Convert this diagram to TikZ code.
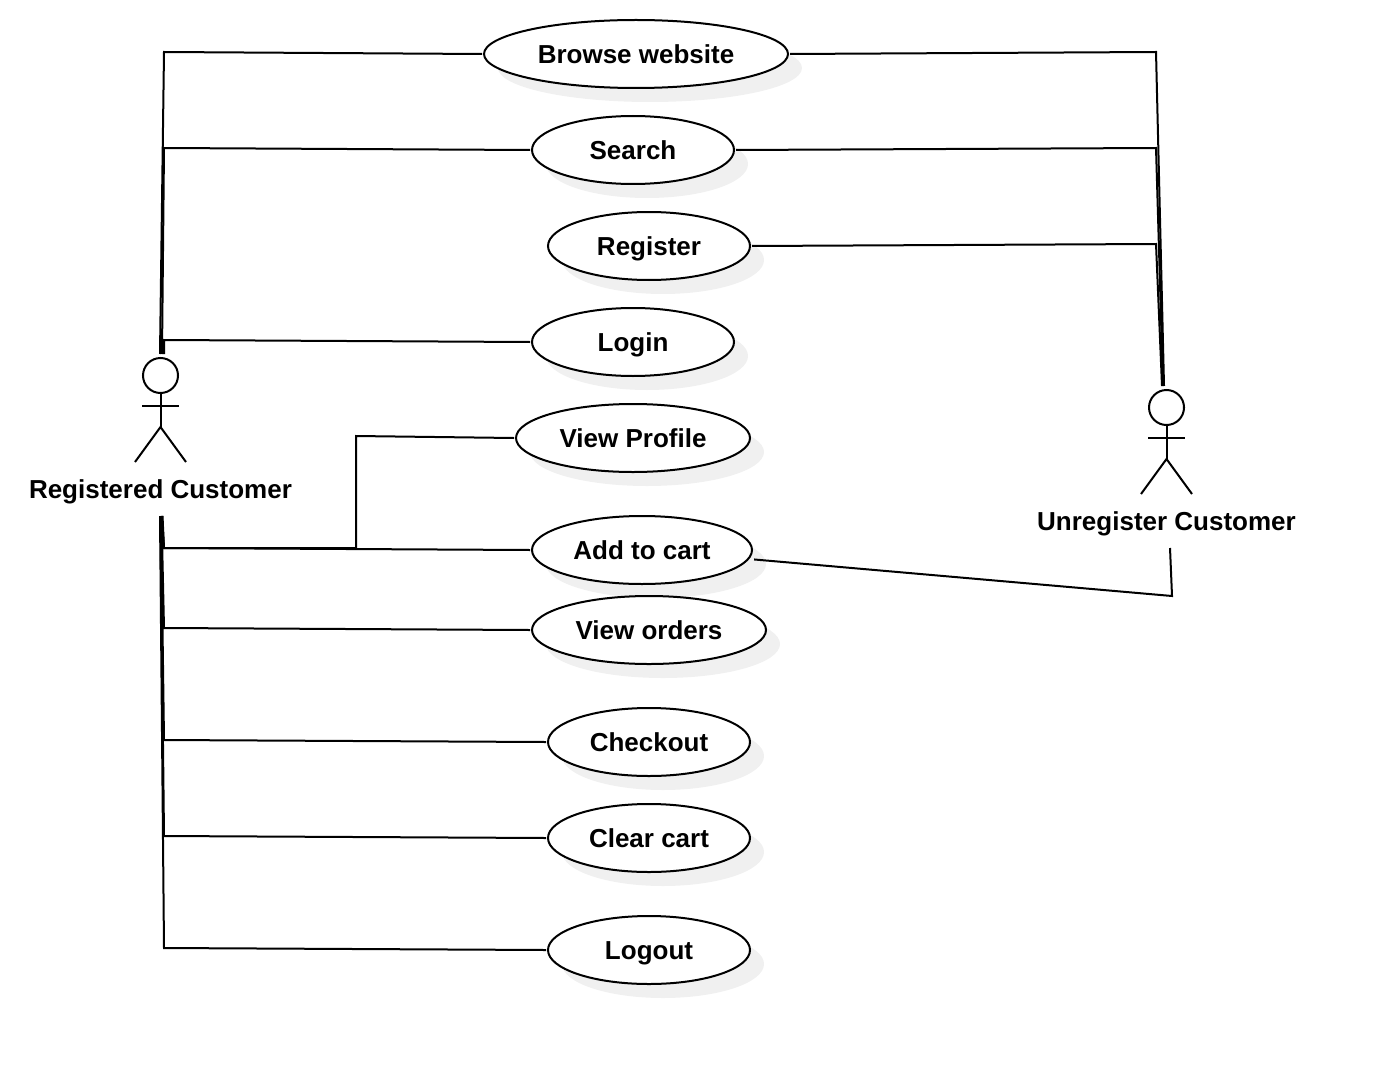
\documentclass[tikz,border=0pt]{standalone}
\usepackage{fontspec}
\setmainfont{Liberation Sans}
\usetikzlibrary{calc,shapes,shapes.geometric,shadows,positioning}

\tikzset{
  usecase/.style={draw=black,fill=white,ellipse,inner sep=0pt,outer sep=1pt,minimum width=#1,minimum height=34pt,
    font=\fontsize{13}{15}\selectfont\bfseries,text height=9.5pt,text depth=0pt,
    drop shadow={shadow xshift=7pt,shadow yshift=-7pt,fill=black!6,opacity=1}},
  actorhead/.style={draw=black,circle,inner sep=0pt,outer sep=0pt,minimum size=17.5pt},
  actorlabel/.style={draw=none,inner sep=0pt,font=\fontsize{13}{15}\selectfont\bfseries,text height=9.5pt,text depth=0pt},
}

\begin{document}
\begin{tikzpicture}[x=0.5pt,y=-0.5pt,line width=1pt]

   \useasboundingbox (0,0) rectangle (1384,1064);

   % use cases
   \node[usecase=152pt] (browse) at (636,54) {Browse website};
   \node[usecase=101pt] (search) at (633,150) {Search};
   \node[usecase=101pt] (register) at (649,246) {Register};
   \node[usecase=101pt] (login) at (633,342) {Login};
   \node[usecase=117pt] (profile) at (633,438) {View Profile};
   \node[usecase=110pt] (addcart) at (642,550) {Add to cart};
   \node[usecase=117pt] (orders) at (649,630) {View orders};
   \node[usecase=101pt] (checkout) at (649,742) {Checkout};
   \node[usecase=101pt] (clearcart) at (649,838) {Clear cart};
   \node[usecase=101pt] (logout) at (649,950) {Logout};

   % registered customer
   \node[actorhead] (regHead) at (160.5,375.5) {};
   \coordinate (regHip) at (160.5,427);
   \coordinate (regTop) at (162,354);
   \coordinate (regBot) at (161,516);
   \draw (regHead.south) -- (regHip);
   \draw (142,406) -- (179,406);
   \draw (135,462) -- (regHip) -- (186,462);
   \node[actorlabel] (regLabel) at (160.5,489) {Registered Customer};

   % unregister customer
   \node[actorhead] (unregHead) at (1166.5,407.5) {};
   \coordinate (unregHip) at (1166.5,459);
   \coordinate (unregTop) at (1163,386);
   \coordinate (unregBot) at (1170,548);
   \draw (unregHead.south) -- (unregHip);
   \draw (1148,438) -- (1185,438);
   \draw (1141,494) -- (unregHip) -- (1192,494);
   \node[actorlabel] (unregLabel) at (1166.5,521) {Unregister Customer};

   % registered customer links
   \draw (browse.west) -- (164,52) -- ([xshift=-1pt]regTop);
   \draw (search.west) -- (164,148) -- (regTop);
   \draw (login.west) -- (164,340) -- ([xshift=1pt]regTop);
   \draw (profile.west) -- (356,436) -- (356,548) -- (164,548) -- ([xshift=.75pt]regBot);
   \draw (addcart.west) -- (164,548) -- ([xshift=.5pt]regBot);
   \draw (orders.west) -- (164,628) -- ([xshift=.25pt]regBot);
   \draw (checkout.west) -- (164,740) -- (regBot);
   \draw (clearcart.west) -- (164,836) -- ([xshift=-.25pt]regBot);
   \draw (logout.west) -- (164,948) -- ([xshift=-.5pt]regBot);

   % unregister customer links
   \draw (browse.east) -- (1156,52) -- ([xshift=.5pt]unregTop);
   \draw (search.east) -- (1156,148) -- (unregTop);
   \draw (register.east) -- (1156,244) -- ([xshift=-.5pt]unregTop);
   \draw ([xshift=2pt]addcart.-5) -- (1172,596) -- (unregBot);

\end{tikzpicture}
\end{document}
